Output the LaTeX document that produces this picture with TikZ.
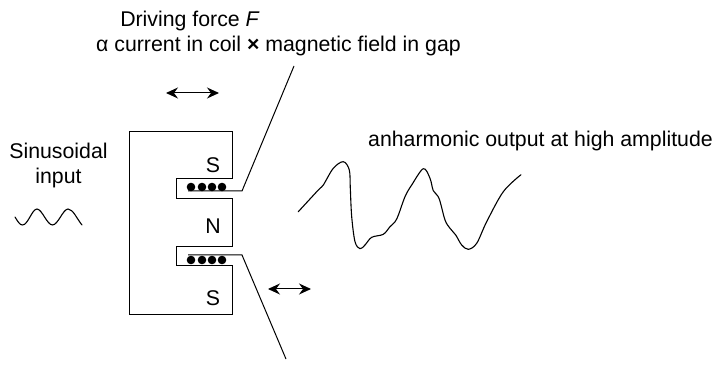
\documentclass[tikz,border=0pt]{standalone}
\usepackage{fontspec}
\setmainfont{Liberation Sans}
\usetikzlibrary{arrows.meta}
\tikzset{
  wire/.style={draw=black,line width=1pt,line join=miter},
  curve/.style={draw=black,line width=1.1pt,line join=round,line cap=round},
  dbl/.style={draw=black,line width=1pt,{Stealth[length=12pt,width=11pt,inset=4pt]}-{Stealth[length=12pt,width=11pt,inset=4pt]}},
  coildot/.style={circle,fill=black,inner sep=0pt,minimum size=8.6pt},
  lbl/.style={font=\fontsize{21.3}{25}\selectfont,inner sep=0pt,text=black,align=center}
}
\begin{document}
\begin{tikzpicture}[x=1pt,y=-1pt]
\useasboundingbox (0,0) rectangle (715,379);
% magnet
\draw[wire] (129,132) -- (232,132) -- (232,179) -- (176,179) -- (176,199) -- (232,199) -- (232,247) -- (176,247) -- (176,266) -- (232,266) -- (232,315) -- (129,315) -- cycle;
% coil wires
\coordinate (u0) at (188,191); \coordinate (u1) at (242,191); \coordinate (u2) at (294,66);
\coordinate (l0) at (188,255); \coordinate (l1) at (242,255); \coordinate (l2) at (286,359);
\draw[wire] (u0) -- (u1) -- (u2);
\draw[wire] (l0) -- (l1) -- (l2);
\foreach \n/\x in {a/191,b/202,c/212,d/222}{
  \node[coildot] (up\n) at (\x,187) {};
  \node[coildot] (lo\n) at (\x,260) {};
}
% arrows
\coordinate (a1) at (166,93); \coordinate (a2) at (219,93);
\coordinate (b1) at (268,289); \coordinate (b2) at (311,289);
\draw[dbl] (a1) -- (a2);
\draw[dbl] (b1) -- (b2);
% labels
\node[lbl] (ps1) at (213,165) {S};
\node[lbl] (pn) at (213,226) {N};
\node[lbl] (ps2) at (213,298) {S};
\node[lbl] (t1) at (190,21) {Driving force \textit{F}};
\node[lbl,anchor=west] (t2) at (96,46) {α current in coil \textbf{×} magnetic field in gap};
\node[lbl] (t3) at (58.5,165) {Sinusoidal\\input};
\node[lbl,anchor=west] (t4) at (368,141) {anharmonic output at high amplitude};
% small sine
\draw[curve] (15,217) .. controls (18,222) and (20,225) .. (22.5,225) .. controls (28,225) and (32,209) .. (37,209) .. controls (42,209) and (47,225) .. (52.5,225) .. controls (58,225) and (63,209) .. (68,209) .. controls (73,209) and (77,219) .. (82,225);
% output wave
\draw[curve] plot[smooth,tension=0.55] coordinates {(298.3,211.7) (318.3,190) (323.3,185) (333.3,168.3) (343.3,161.7) (349.3,170) (350.3,188.3) (351.7,216.7) (355,241.7) (360,248.7) (365,245) (371.7,237.3) (383.3,234.3) (390,226.7) (396.7,219) (405,196.7) (411.7,185) (423.3,168.7) (430,178.3) (433.3,190.7) (439,198.3) (445,220) (450,228.3) (455.7,235) (461.7,245) (468.3,249.3) (476.7,243.3) (486.7,221.7) (503.3,191.7) (521,174.7)};
\end{tikzpicture}
\end{document}
